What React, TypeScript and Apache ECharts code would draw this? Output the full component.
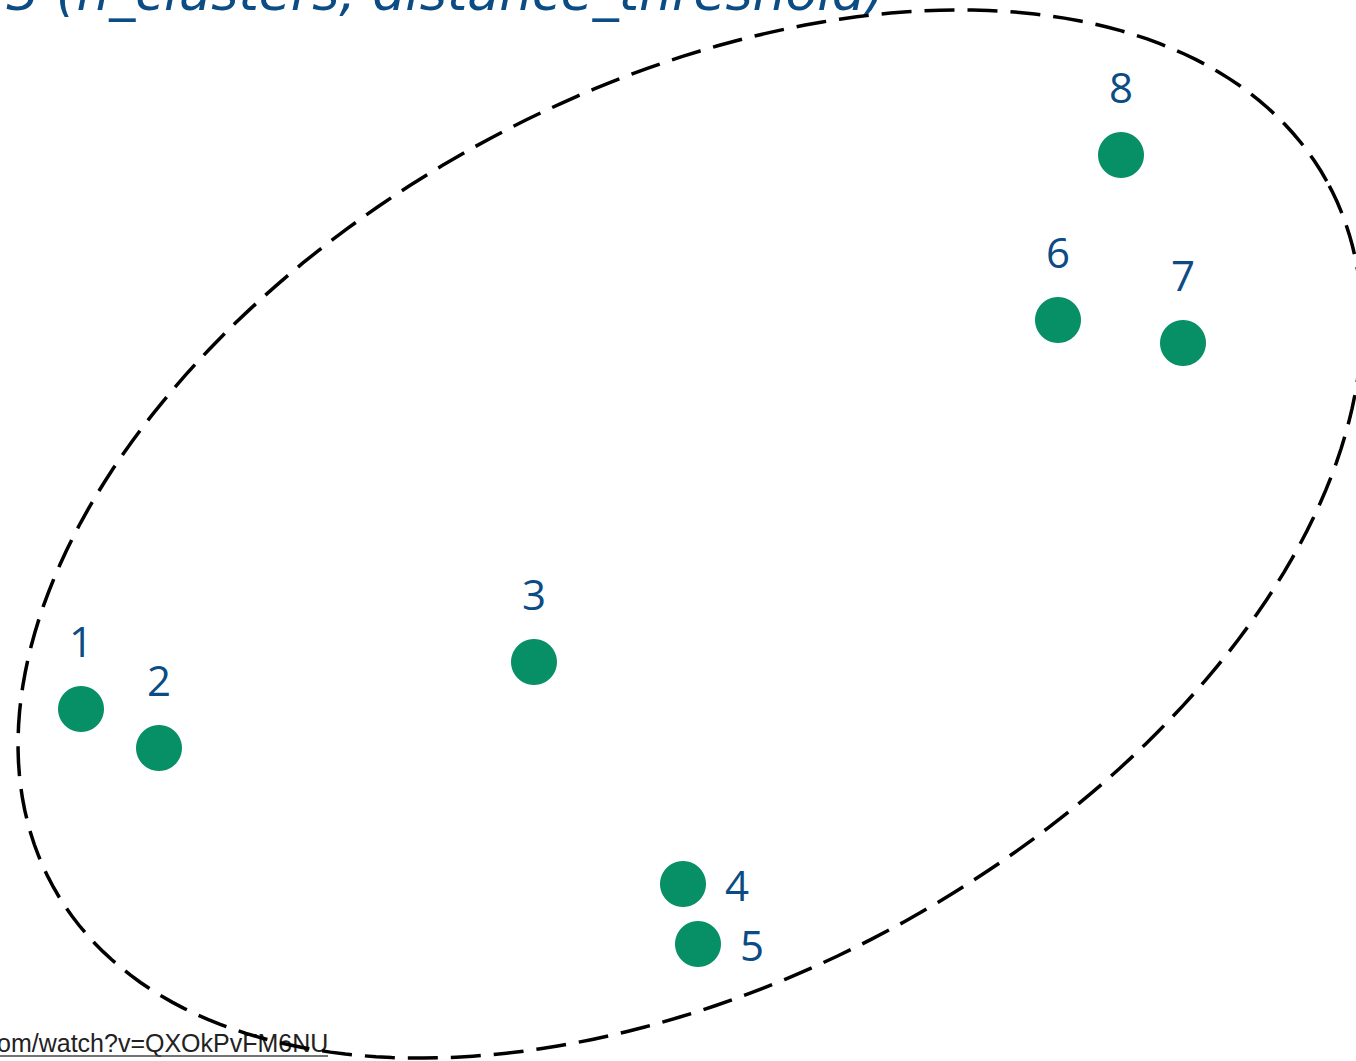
import React, { useEffect, useRef } from "react";
import * as echarts from "echarts";

// Point ids and positions (arbitrary units, y up)
const pointIds = ["1", "2", "3", "4", "5", "6", "7", "8"];
const pointX = [0.81, 1.59, 5.34, 6.83, 6.98, 10.58, 11.83, 11.21];
const pointY = [3.52, 3.13, 3.99, 1.77, 1.17, 7.41, 7.18, 9.06];
const labelSide = ["top", "top", "top", "right", "right", "top", "top", "top"];

// Enclosing dashed ellipse: centre x, centre y, semi-major, semi-minor, rotation (deg)
const ellipseParams = [6.9, 5.27, 7.28, 4.43, 29];

const titleText = "3 (n_clusters, distance_threshold)";
const linkText = "om/watch?v=QXOkPvFM6NU";

const GREEN = "#078F65";
const BLUE = "#0B4C85";

export default function App() {
  const ref = useRef<HTMLDivElement>(null);
  useEffect(() => {
    document.body.style.margin = "0";
    const chart = echarts.init(ref.current!, null, { renderer: "svg" });
    const points = pointIds.map((id, i) => ({
      name: id,
      value: [pointX[i], pointY[i]],
      label: {
        position: labelSide[i],
        distance: labelSide[i] === "top" ? 25 : 19,
      },
    }));
    chart.setOption({
      animation: false,
      backgroundColor: "#ffffff",
      grid: { left: 0, right: 0, top: 0, bottom: 0 },
      xAxis: { type: "value", min: 0, max: 13.56, show: false },
      yAxis: { type: "value", min: 0, max: 10.61, show: false },
      graphic: [
        {
          type: "text",
          z: 10,
          style: {
            text: titleText,
            x: 885,
            y: 18,
            align: "right",
            verticalAlign: "bottom",
            fill: BLUE,
            font: "oblique 52px 'DejaVu Sans', sans-serif",
          },
        },
        {
          type: "text",
          z: 10,
          style: {
            text: linkText,
            x: -3,
            y: 1055,
            align: "left",
            verticalAlign: "bottom",
            fill: "#222222",
            font: "25px 'Liberation Sans', sans-serif",
          },
        },
        {
          type: "line",
          z: 10,
          shape: { x1: 0, y1: 1056, x2: 328, y2: 1056 },
          style: { stroke: "#444444", lineWidth: 1.5 },
        },
      ],
      series: [
        {
          type: "custom",
          z: 20,
          silent: true,
          data: [ellipseParams],
          renderItem: (params: any, api: any) => {
            const cx = api.value(0);
            const cy = api.value(1);
            const a = api.value(2);
            const b = api.value(3);
            const th = (api.value(4) * Math.PI) / 180;
            const pts: number[][] = [];
            const n = 240;
            for (let k = 0; k < n; k++) {
              const t = (2 * Math.PI * k) / n;
              const x = cx + a * Math.cos(t) * Math.cos(th) - b * Math.sin(t) * Math.sin(th);
              const y = cy + a * Math.cos(t) * Math.sin(th) + b * Math.sin(t) * Math.cos(th);
              pts.push(api.coord([x, y]));
            }
            return {
              type: "polygon",
              shape: { points: pts },
              style: {
                fill: "none",
                stroke: "#000000",
                lineWidth: 3.5,
                lineDash: [30, 13],
              },
            };
          },
        },
        {
          type: "scatter",
          z: 30,
          symbol: "circle",
          symbolSize: 46,
          itemStyle: { color: GREEN, opacity: 1 },
          label: {
            show: true,
            formatter: "{b}",
            color: BLUE,
            fontSize: 42,
            fontFamily: "'Open Sans', sans-serif",
          },
          data: points,
        },
      ],
    });
    return () => chart.dispose();
  }, []);
  return (
    <div
      ref={ref}
      style={{ position: "absolute", left: 0, top: 0, width: 1356, height: 1061 }}
    />
  );
}
